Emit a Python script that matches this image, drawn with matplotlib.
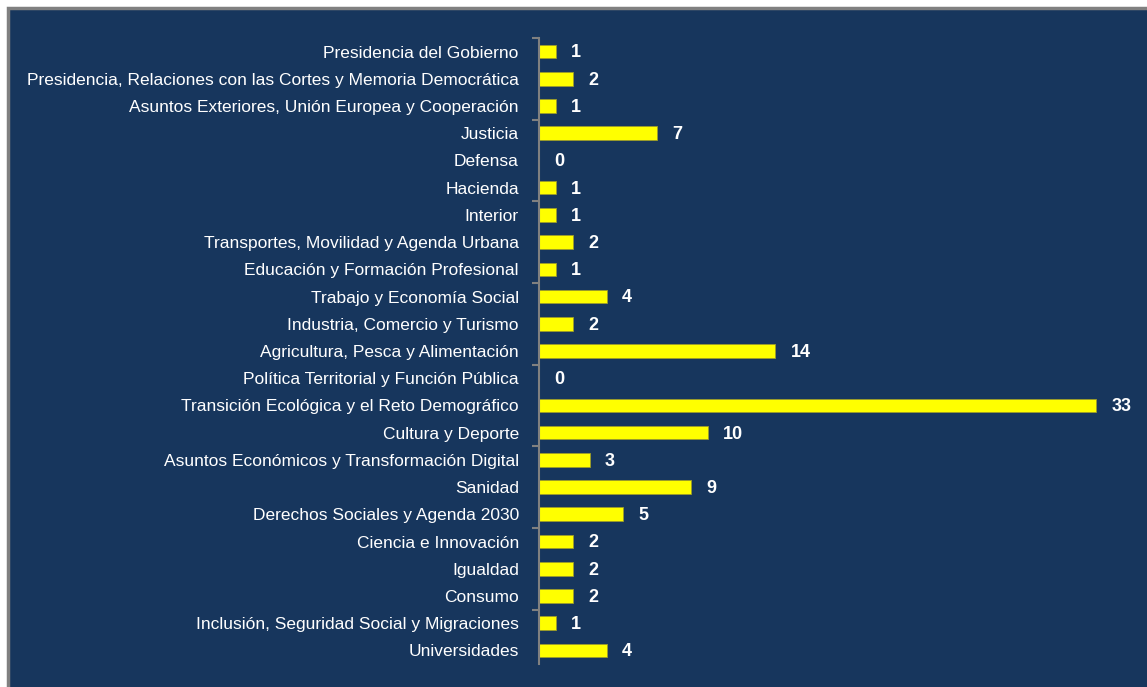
import matplotlib
matplotlib.use("Agg")
import matplotlib.pyplot as plt
from matplotlib.patches import Rectangle
from matplotlib import font_manager

categories = [
    "Presidencia del Gobierno",
    "Presidencia, Relaciones con las Cortes y Memoria Democrática",
    "Asuntos Exteriores, Unión Europea y Cooperación",
    "Justicia",
    "Defensa",
    "Hacienda",
    "Interior",
    "Transportes, Movilidad y Agenda Urbana",
    "Educación y Formación Profesional",
    "Trabajo y Economía Social",
    "Industria, Comercio y Turismo",
    "Agricultura, Pesca y Alimentación",
    "Política Territorial y Función Pública",
    "Transición Ecológica y el Reto Demográfico",
    "Cultura y Deporte",
    "Asuntos Económicos y Transformación Digital",
    "Sanidad",
    "Derechos Sociales y Agenda 2030",
    "Ciencia e Innovación",
    "Igualdad",
    "Consumo",
    "Inclusión, Seguridad Social y Migraciones",
    "Universidades",
]
values = [1, 2, 1, 7, 0, 1, 1, 2, 1, 4, 2, 14, 0, 33, 10, 3, 9, 5, 2, 2, 2, 1, 4]

names = {f.name for f in font_manager.fontManager.ttflist}
fam = "Liberation Sans Narrow" if "Liberation Sans Narrow" in names else "Liberation Sans"

navy = "#17365D"
W, H = 1147, 687
fig = plt.figure(figsize=(W / 100, H / 100), dpi=100, facecolor="white")
fig.patches.append(Rectangle((8 / W, -0.01), 1.02, 1 - 8 / H + 0.01, transform=fig.transFigure,
                             facecolor=navy, edgecolor="#808080", linewidth=2.5, zorder=-10))

ax = fig.add_axes([539 / W, (H - 664) / H, (W - 539) / W, (664 - 38) / H])
ax.set_zorder(5)
ax.set_facecolor("none")
n = len(categories)
y = list(range(n))
ax.barh(y, values, height=0.5, color="#FFFF00", edgecolor="#9C9C2A", linewidth=0.6)
ax.set_ylim(n - 0.5, -0.5)
ax.set_xlim(0, 36)

for yi, v in zip(y, values):
    ax.annotate(str(v), (v, yi + 0.05), xytext=(11, 0), textcoords="offset points",
                ha="left", va="center", color="white", fontsize=13, fontweight="bold", family=fam)

ax.set_yticks(y)
ax.set_yticklabels(categories, family=fam, fontsize=12.5, color="white")
ax.tick_params(axis="y", which="major", length=0, pad=14.5)
ax.set_yticks([i - 0.5 for i in range(0, n, 3)], minor=True)
ax.tick_params(axis="y", which="minor", length=5, width=1.5, color="#808080")
ax.set_xticks([])
for s in ["top", "right", "bottom"]:
    ax.spines[s].set_visible(False)
ax.spines["left"].set_color("#808080")
ax.spines["left"].set_linewidth(1.5)

fig.savefig("out.png", dpi=100, facecolor="white")
